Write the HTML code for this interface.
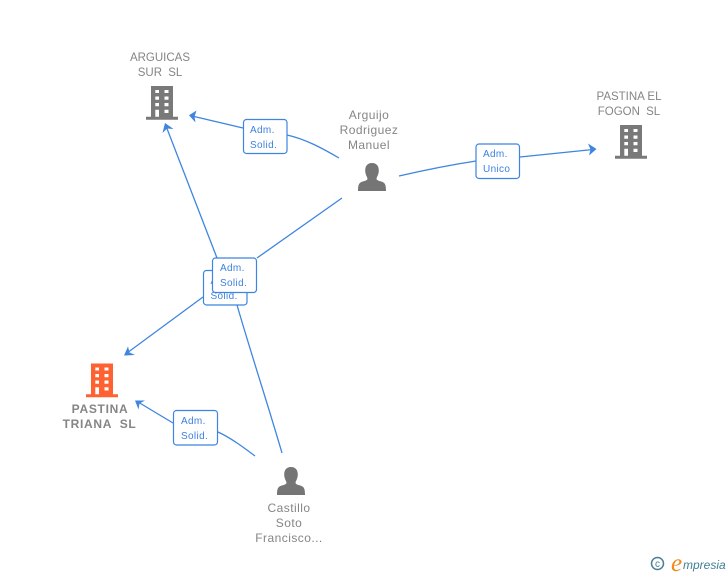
<!DOCTYPE html>
<html><head><meta charset="utf-8"><style>
html,body{margin:0;padding:0;background:#fff}
svg{display:block}
text{font-family:"Liberation Sans",sans-serif}
.n{font-size:11.5px;fill:#858585;text-anchor:middle}
.p{font-size:12px;fill:#858585;text-anchor:middle;letter-spacing:.45px}
.b{font-size:12px;fill:#858585;text-anchor:middle;font-weight:bold;letter-spacing:.7px}
.l{font-size:10px;fill:#3d82de;letter-spacing:.35px}
.c{fill:none;stroke:#3d85e0;stroke-width:1.3}
.box{fill:#fff;stroke:#3d85e0;stroke-width:1.2}
</style></head><body>
<svg width="728" height="575" viewBox="0 0 728 575" xmlns="http://www.w3.org/2000/svg">
<defs>
<g id="bld">
<path fill-rule="evenodd" d="M151 86H173V116.700H178V119.700H146V116.700H151ZM155.300 90V93V93H159V90ZM164.500 90V93H168.500V90ZM155.300 96.500V99.700H159V96.500ZM164.500 96.500V99.700H168.500V96.500ZM155.300 103V106.300H159V103ZM164.500 103V106.300H168.500V103ZM155.300 109.700V116.700H159V109.700ZM164.500 109.700V113H168.500V109.700Z"/>
</g>
<g id="per">
<path d="M372 163C377 163 378.800 166.500 378.800 170.500C378.800 174.500 377 176.500 376.500 178.500C376.500 180.300 378.500 180.800 381.500 181.600C385 182.600 386 184.500 386 191H358C358 184.500 359 182.600 362.500 181.600C365.500 180.800 367.500 180.300 367.500 178.500C367 176.500 365.200 174.500 365.200 170.500C365.200 166.500 367 163 372 163Z"/>
</g>
</defs>

<!-- connectors -->
<path class="c" d="M339 158C322 148 305 139 287 135"/>
<path class="c" d="M243 128L192 116"/>
<path fill="#3d85e0" d="M189 115.300L196.500 110.500L194.500 116.700L195.500 122.500Z"/>

<path class="c" d="M217 258L166 126"/>
<path fill="#3d85e0" d="M165 123L173.500 129L167 128.500L162.500 133Z"/>
<path class="c" d="M237 305C250 350 268 405 282 453"/>

<path class="c" d="M342 198L257 258"/>
<path class="c" d="M203 297L127 353"/>
<path fill="#3d85e0" d="M124 355.500L128 346.500L129.500 352.500L135 355Z"/>

<path class="c" d="M399 176C425 170 450 165 476 161"/>
<path class="c" d="M520 157L593 149.500"/>
<path fill="#3d85e0" d="M596.500 149L588 143.500L590.500 149.500L589 155.500Z"/>

<path class="c" d="M255 456C243 447 231 438 218 432"/>
<path class="c" d="M173 423L138 402"/>
<path fill="#3d85e0" d="M135 400.500L145 400.500L139.500 403.500L138.500 409.500Z"/>

<!-- label boxes -->
<rect class="box" x="243.500" y="119.500" width="43.500" height="34" rx="3"/>
<text class="l" x="250" y="133">Adm.</text><text class="l" x="250" y="148">Solid.</text>

<rect class="box" x="476" y="144" width="43.500" height="34.500" rx="3"/>
<text class="l" x="483" y="157">Adm.</text><text class="l" x="483" y="172">Unico</text>

<rect class="box" x="203.500" y="270.500" width="43.500" height="34.500" rx="3"/>
<text class="l" x="210.500" y="284">Adm.</text><text class="l" x="210.500" y="299">Solid.</text>

<rect class="box" x="212.500" y="258" width="44" height="34.500" rx="3"/>
<text class="l" x="220" y="271">Adm.</text><text class="l" x="220" y="286">Solid.</text>

<rect class="box" x="173.500" y="410.500" width="44" height="34.500" rx="3"/>
<text class="l" x="181" y="424">Adm.</text><text class="l" x="181" y="439">Solid.</text>

<!-- nodes -->
<use href="#bld" fill="#797979"/>
<use href="#bld" fill="#797979" transform="translate(469 39)"/>
<use href="#bld" fill="#ff6232" transform="translate(-60 277.500)"/>
<use href="#per" fill="#757575"/>
<use href="#per" fill="#757575" transform="translate(-81 304)"/>

<!-- names -->
<text class="n" x="160" y="61">ARGUICAS</text>
<text class="n" x="160" y="76">SUR  <tspan dx="3">SL</tspan></text>
<text class="n" x="629" y="100">PASTINA EL</text>
<text class="n" x="629" y="115">FOGON  <tspan dx="3">SL</tspan></text>
<text class="p" x="369" y="119">Arguijo</text>
<text class="p" x="369" y="134">Rodriguez</text>
<text class="p" x="369" y="149">Manuel</text>
<text class="b" x="100" y="413">PASTINA</text>
<text class="b" x="99.500" y="428">TRIANA  <tspan dx="4">SL</tspan></text>
<text class="p" x="289" y="512">Castillo</text>
<text class="p" x="289" y="527">Soto</text>
<text class="p" x="289" y="542">Francisco...</text>

<!-- logo -->
<circle cx="657.500" cy="563.500" r="6" fill="none" stroke="#4a7f96" stroke-width="1.500"/>
<text x="657.500" y="567" font-size="10" fill="#4a7f96" text-anchor="middle">c</text>
<text x="671" y="571" font-size="25" fill="#f28a1c" style="font-family:'Liberation Serif',serif;font-style:italic">e</text>
<text x="683" y="569" font-size="12" fill="#3f7f96" style="font-style:italic">mpresia</text>
</svg>
</body></html>
